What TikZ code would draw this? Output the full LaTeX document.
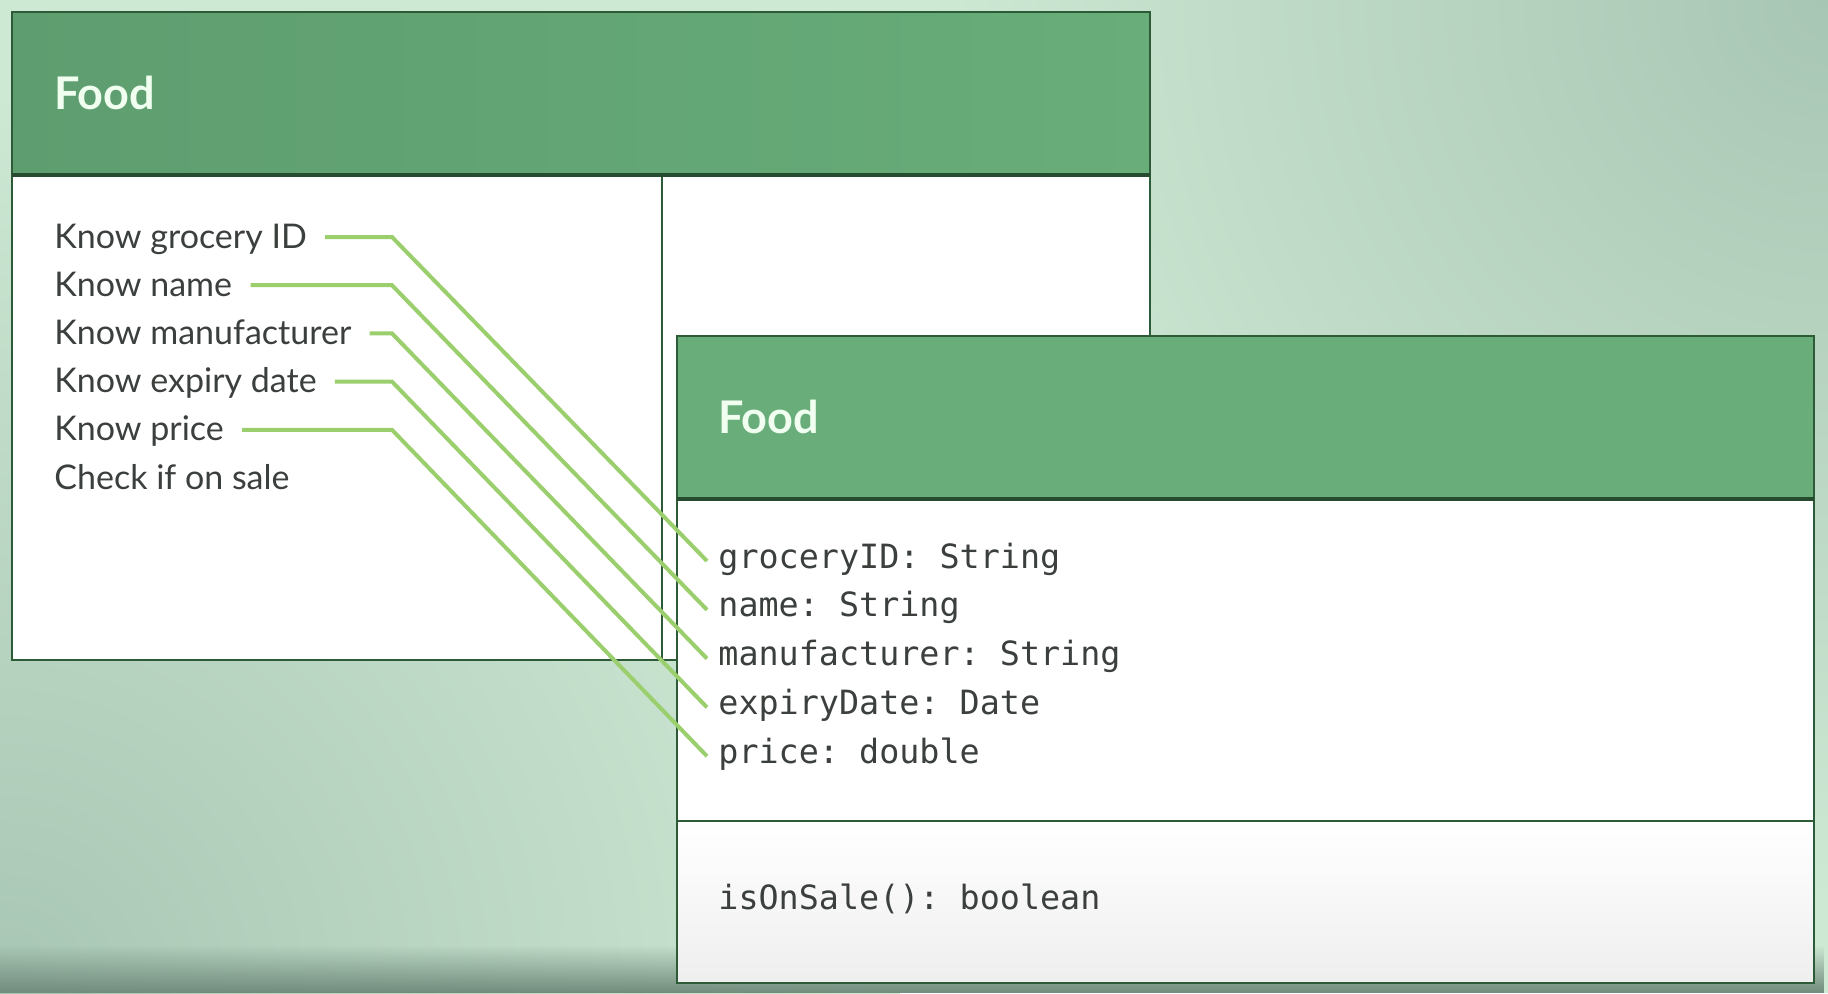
\documentclass[tikz,border=0pt]{standalone}
\usepackage{fontspec}
\setmainfont{Lato}
\setmonofont{DejaVu Sans Mono}
\usetikzlibrary{positioning, fadings}
\definecolor{bgmint}{HTML}{CDE8D3}
\definecolor{bgshade}{HTML}{A8C6B4}
\definecolor{bgdark}{HTML}{718B7C}
\definecolor{headgreen}{HTML}{68AD7A}
\definecolor{headdark}{HTML}{5E9D6F}
\definecolor{frame}{HTML}{2D5A37}
\definecolor{linkgreen}{HTML}{9BCF6E}
\definecolor{inktext}{HTML}{3B403D}
\tikzfading[name=fadeup, top color=transparent!100, bottom color=transparent!0]
\tikzset{
  x=0.5pt, y=-0.5pt,
  boxline/.style={draw=frame, line width=1pt},
  headline/.style={draw=frame!85!black, line width=1.6pt},
  title/.style={font=\bfseries\fontsize{22.5}{27}\selectfont, text=white!94!green, inner sep=0pt, anchor=base west},
  duty/.style={font=\fontsize{17}{20}\selectfont, text=inktext, inner sep=0pt, text height=12.5pt, text depth=1.5pt},
  field/.style={font=\ttfamily\fontsize{16.7}{20}\selectfont, text=inktext, inner sep=0pt, text height=11pt, text depth=4pt},
  link/.style={draw=linkgreen, line width=2pt},
}

\begin{document}
\begin{tikzpicture}
  \useasboundingbox (0,0) rectangle (1828,993);
  \fill[bgmint] (0,0) rectangle (1828,993);
  \begin{scope}
    \clip (0,0) rectangle (1828,993);
    \shade[inner color=bgshade, outer color=bgmint] (1828,0) circle (900);
    \shade[inner color=bgshade, outer color=bgmint] (0,993) circle (900);
    \fill[bgdark, path fading=fadeup] (0,945) rectangle (1828,993);
  \end{scope}

  \fill[white] (12,175) rectangle (1150,660);
  \shade[left color=headdark, right color=headgreen] (12,12) rectangle (1150,175);
  \draw[boxline] (12,12) rectangle (1150,660);
  \draw[boxline] (662,175) -- (662,660);
  \draw[headline] (12,175) -- (1150,175);

  \fill[white] (677,499) rectangle (1814,983);
  \shade[top color=white, bottom color=gray!13] (677,821) rectangle (1814,983);
  \fill[headgreen] (677,336) rectangle (1814,499);
  \draw[boxline] (677,336) rectangle (1814,983);
  \draw[headline] (677,499) -- (1814,499);
  \draw[boxline] (677,821) -- (1814,821);

  \node[title] (crc) at (54,109) {Food};
  \node[title] (uml) at (718,433) {Food};

  \node[duty, anchor=base west] (k1) at (54,248) {Know grocery ID};
  \node[duty, below right=9.7pt and 0pt of k1.south west] (k2) {Know name};
  \node[duty, below right=9.7pt and 0pt of k2.south west] (k3) {Know manufacturer};
  \node[duty, below right=9.7pt and 0pt of k3.south west] (k4) {Know expiry date};
  \node[duty, below right=9.7pt and 0pt of k4.south west] (k5) {Know price};
  \node[duty, below right=9.7pt and 0pt of k5.south west] (k6) {Check if on sale};

  \node[field, anchor=base west] (g1) at (718,568) {groceryID: String};
  \node[field, below right=9pt and 0pt of g1.south west] (g2) {name: String};
  \node[field, below right=9pt and 0pt of g2.south west] (g3) {manufacturer: String};
  \node[field, below right=9pt and 0pt of g3.south west] (g4) {expiryDate: Date};
  \node[field, below right=9pt and 0pt of g4.south west] (g5) {price: double};
  \node[field, anchor=base west] (m1) at (718,909) {isOnSale(): boolean};

  \coordinate (kink) at (392,0);
  \draw[link] ([xshift=9pt]k1.east) -- (k1.east -| kink) -- ([xshift=-5.5pt]g1.west);
  \draw[link] ([xshift=9pt]k2.east) -- (k2.east -| kink) -- ([xshift=-5.5pt]g2.west);
  \draw[link] ([xshift=9pt]k3.east) -- (k3.east -| kink) -- ([xshift=-5.5pt]g3.west);
  \draw[link] ([xshift=9pt]k4.east) -- (k4.east -| kink) -- ([xshift=-5.5pt]g4.west);
  \draw[link] ([xshift=9pt]k5.east) -- (k5.east -| kink) -- ([xshift=-5.5pt]g5.west);
\end{tikzpicture}
\end{document}
